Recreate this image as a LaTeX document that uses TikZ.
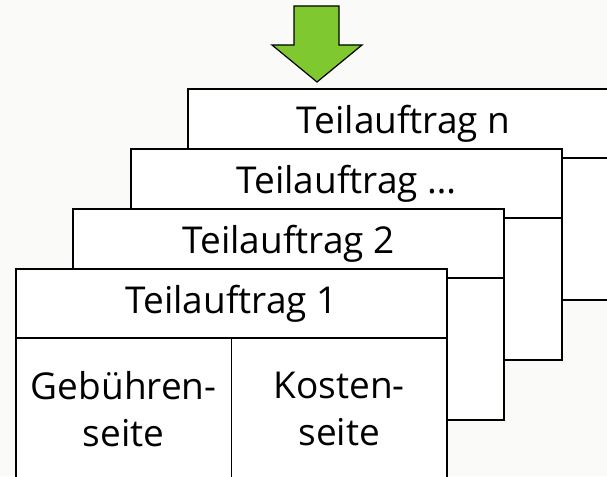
\documentclass[tikz,border=0pt]{standalone}
\usepackage{fontspec}
\setmainfont{Open Sans}
\definecolor{arrowgreen}{RGB}{128,200,48}
\definecolor{bgcol}{RGB}{250,250,248}
\begin{document}
\begin{tikzpicture}[x=1pt,y=-1pt,
  every node/.style={inner sep=0pt, outer sep=0pt, font=\fontsize{37}{47}\selectfont},
  header/.style={draw, fill=white, line width=1.6pt, minimum width=431pt, minimum height=69pt, anchor=north west},
  bodybox/.style={draw, fill=white, line width=1.6pt, minimum width=431pt, minimum height=142pt, anchor=north west},
  halfbox/.style={draw, fill=white, line width=1.6pt, minimum width=215.5pt, minimum height=142pt, anchor=north west, align=center},
  bigarrow/.style={draw, fill=arrowgreen, line width=1.2pt, line join=miter}]
\useasboundingbox (0,0) rectangle (607,476);
\clip (0,0) rectangle (607,476);
\fill[bgcol] (0,0) rectangle (607,476);
% box n
\node[bodybox] (bn) at (188,158) {};
\node[header] (hn) at (188,89) {Teilauftrag n};
% box ...
\node[bodybox] (bd) at (131,218) {};
\node[header] (hd) at (131,149) {Teilauftrag …};
% box 2
\node[bodybox] (b2) at (73,278) {};
\node[header] (h2) at (73,209) {Teilauftrag 2};
% box 1
\node[halfbox] (gs) at (16,338) {Gebühren-\\seite};
\node[halfbox] (ks) at (231.5,338) {Kosten-\\seite};
\node[header] (h1) at (16,269) {Teilauftrag 1};
% arrow
\coordinate (a1) at (294,6);
\coordinate (a2) at (339,6);
\coordinate (a3) at (339,45);
\coordinate (a4) at (362,45);
\coordinate (a5) at (317,82);
\coordinate (a6) at (272,45);
\coordinate (a7) at (294,45);
\draw[bigarrow] (a1) -- (a2) -- (a3) -- (a4) -- (a5) -- (a6) -- (a7) -- cycle;
\end{tikzpicture}
\end{document}
